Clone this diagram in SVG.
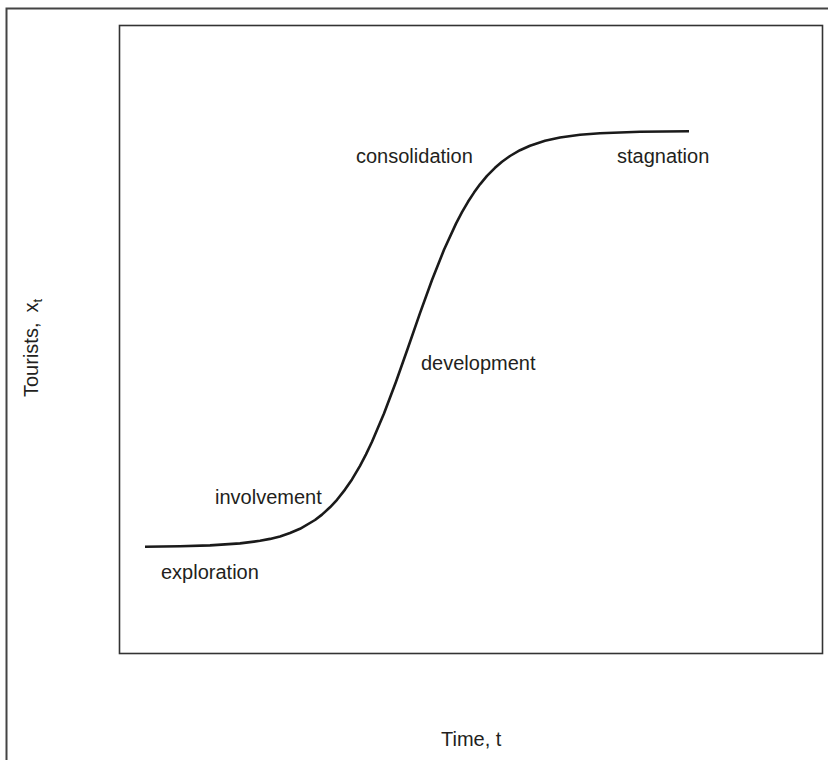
<svg xmlns="http://www.w3.org/2000/svg" width="828" height="760" viewBox="0 0 828 760">
<style>
.lbl{font-family:"Liberation Sans",Arial,sans-serif;font-size:20px;fill:#231f20}
.frame{fill:none;stroke:#444;stroke-width:2}
.box{fill:none;stroke:#333;stroke-width:1.6}
.curve{fill:none;stroke:#1a1a1a;stroke-width:2.6;stroke-linecap:butt;stroke-linejoin:round}
</style>
<rect width="828" height="760" fill="#fff"/>
<path class="frame" d="M6.5,760 V8.5 H828"/>
<g id="plot-area">
<rect class="box" x="119.5" y="25.5" width="703" height="628"/>
</g>
<g id="connectors">
<polyline class="curve" points="145,546.7 180,546.3 210,545.4 240,543.4 260,540.8 270,538.9 280,536.4 290,533 300,528.8 315,520 322,514.6 330,507.3 337,499.8 345,489.6 352,479.4 360,465.8 366,454.4 372,441.8 384,413.5 396,381.7 408,347.7 420,313.1 432,280 444,249.8 456,223.6 462,212.2 468,201.8 474,192.6 480,184.3 487,175.9 495,167.8 502,161.7 510,156 520,150.2 530,145.7 545,140.8 560,137.5 580,134.8 600,133.2 640,131.7 689,131.2"/>
</g>
<g id="label-exploration"><text class="lbl" x="161" y="579">exploration</text></g>
<g id="label-involvement"><text class="lbl" x="215" y="504">involvement</text></g>
<g id="label-development"><text class="lbl" x="421" y="370">development</text></g>
<g id="label-consolidation"><text class="lbl" x="356" y="163">consolidation</text></g>
<g id="label-stagnation"><text class="lbl" x="617" y="163">stagnation</text></g>
<g id="axis-x"><text class="lbl" x="441" y="746">Time, t</text></g>
<g id="axis-y"><text class="lbl" transform="translate(38,397) rotate(-90)">Tourists,<tspan dx="10">x</tspan><tspan font-size="13" dy="4">t</tspan></text></g>
</svg>
